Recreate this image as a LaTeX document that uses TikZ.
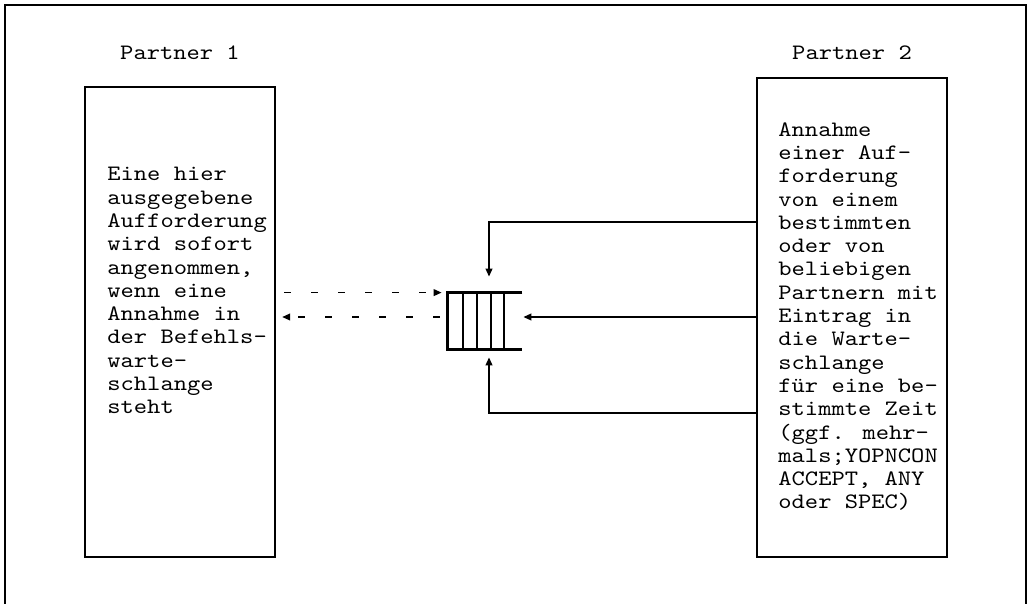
\documentclass[tikz,border=0pt]{standalone}
\usepackage{fontspec}
\newfontfamily\courfont{Latin Modern Mono}[FakeStretch=1.15]
\usetikzlibrary{arrows.meta,calc}
\begin{document}
\begin{tikzpicture}[x=0.5pt,y=-0.5pt,
  boxline/.style={line width=1.2pt},
  partnerbox/.style={draw,boxline,inner sep=0pt},
  boxtext/.style={inner sep=0pt,anchor=north west,align=left,font=\courfont\fontsize{11pt}{11.65pt}\selectfont},
  label/.style={inner sep=0pt,font=\courfont\fontsize{11pt}{11.65pt}\selectfont},
  conn/.style={line width=0.75pt,-{Triangle[length=4pt,width=3.4pt]}},
  dconn/.style={conn,dash pattern=on 3.5pt off 10pt}
]
\useasboundingbox (0,0) rectangle (1032,604);
% outer frame (open at bottom)
\draw[boxline] (5,604) -- (5,5) -- (1026,5) -- (1026,604);
% partner boxes
\node[partnerbox,minimum width=95pt,minimum height=235pt] (L) at (180,322) {};
\node[partnerbox,minimum width=95pt,minimum height=239.5pt] (R) at (852,317.5) {};
\node[label] (L1) at (180,53) {Partner 1};
\node[label] (R1) at (852,53) {Partner 2};
\node[boxtext] (LT) at (107,167) {Eine hier\\ausgegebene\\Aufforderung\\wird sofort\\angenommen,\\wenn eine\\Annahme in\\der Befehls-\\warte-\\schlange\\steht};
\node[boxtext] (RT) at (778,122) {Annahme\\einer Auf-\\forderung\\von einem\\bestimmten\\oder von\\beliebigen\\Partnern mit\\Eintrag in\\die Warte-\\schlange\\für eine be-\\stimmte Zeit\\(ggf. mehr-\\mals;YOPNCON\\ACCEPT, ANY\\oder SPEC)};
% queue
\node[inner sep=0pt,minimum width=37pt,minimum height=28pt] (Q) at (485,321) {};
\draw[boxline] (Q.north east) -- (Q.north west) -- (Q.south west) -- (Q.south east);
\foreach \xx in {463,477,491,504} \draw[boxline] (\xx,293) -- (\xx,349);
% connectors
\coordinate (a1) at ($(L.east |- Q.north)+(8,0)$);
\coordinate (a2) at ($(Q.north west)+(-6,0)$);
\draw[dconn] (a1) -- (a2);
\coordinate (b1) at ($(Q.west)+(-8,-4)$);
\coordinate (b2) at ($(L.east |- b1)+(6,0)$);
\draw[dconn] (b1) -- (b2);
\coordinate (c1) at (R.west |- 0,222);
\coordinate (c2) at (489,222);
\draw[conn] (c1) -- (c2) -- ($(Q.north -| c2)+(0,-16)$);
\coordinate (d1) at (R.west |- 0,317);
\draw[conn] (d1) -- ($(Q.east |- d1)+(1,0)$);
\coordinate (e1) at (R.west |- 0,413);
\coordinate (e2) at (489,413);
\draw[conn] (e1) -- (e2) -- ($(Q.south -| e2)+(0,8)$);
\end{tikzpicture}
\end{document}
